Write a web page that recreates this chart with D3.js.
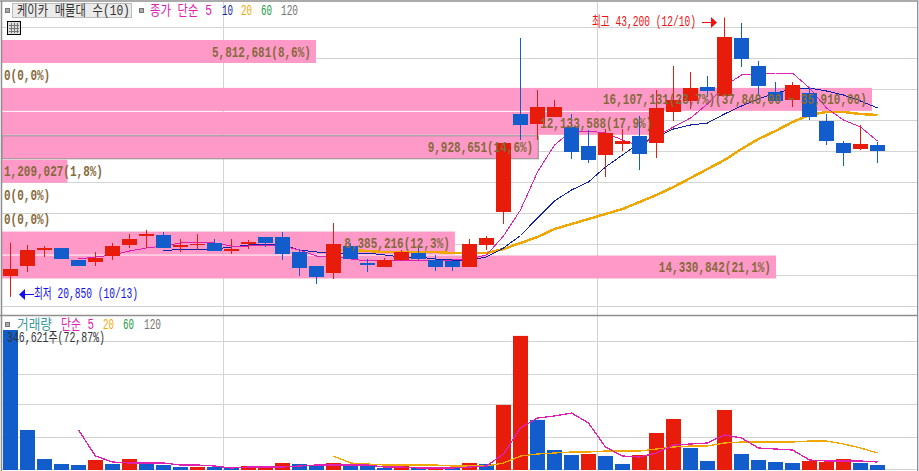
<!DOCTYPE html>
<html>
<head>
<meta charset="utf-8">
<style>
html, body { margin: 0; padding: 0; background: #fff; overflow: hidden; }
text { font-family: "Liberation Mono", "Noto Sans CJK KR", monospace; }
</style>
<script src="https://cdn.jsdelivr.net/npm/d3@7"></script>
</head>
<body>
<div class="graphic"></div>
<script>
// candles (won)
let opens = [22520, 23320, 24600, 24760, 23800, 23640, 24120, 25000, 25720, 25800, 24840, 25000, 25160, 24520, 25080, 25640, 25640, 24440, 23320, 22760, 24920, 23560, 23240, 23800, 24360, 23800, 23720, 23240, 25000, 27640, 35480, 34680, 35240, 34440, 32920, 32200, 33080, 33720, 33160, 35640, 36520, 37640, 36920, 41560, 39320, 37240, 36600, 37160, 34920, 33160, 32680, 33000];
let highs = [25180, 25000, 24920, 24760, 23800, 24440, 25160, 25880, 26200, 26040, 25480, 25880, 25480, 25480, 25400, 25640, 26040, 24680, 23320, 26760, 25160, 23880, 23960, 24600, 24840, 24200, 23720, 25480, 25720, 33160, 41560, 37400, 36600, 35480, 34200, 34280, 34280, 35320, 37400, 39320, 38840, 38520, 43200, 42760, 39720, 38040, 38040, 37560, 35480, 33320, 34600, 33240];
let lows = [20850, 22840, 24040, 23880, 23320, 23320, 23800, 24760, 24760, 24760, 24440, 24600, 24520, 24280, 24680, 24840, 23800, 22520, 21880, 22280, 23880, 22840, 23240, 23720, 23800, 22920, 22920, 23240, 24600, 26680, 33400, 33400, 35240, 31880, 31560, 30440, 32520, 31000, 31960, 34920, 35880, 36840, 36920, 39240, 36920, 36520, 36040, 35000, 33000, 31320, 32600, 31560];
let closes = [23080, 24600, 24760, 23880, 23320, 23960, 24920, 25480, 25880, 24760, 25000, 25080, 24520, 24680, 25240, 25160, 24280, 23160, 22440, 25080, 23880, 23400, 23800, 24440, 23880, 23240, 23240, 25080, 25560, 33160, 34600, 36040, 36040, 32440, 31800, 33960, 33320, 32280, 35960, 36600, 37560, 37320, 41640, 39880, 37720, 36520, 37800, 35240, 33320, 32360, 33080, 32520];

// moving averages, first value sits on candle index given by the start constant
let ma5Start = 4;
let ma5 = [23880, 24040, 24200, 24520, 24760, 24920, 25160, 25240, 25160, 24920, 24920, 25000, 24920, 24600, 24120, 24120, 23880, 23720, 23800, 23800, 23800, 23800, 23800, 23880, 24200, 25720, 27800, 30840, 33000, 34120, 34120, 33960, 33400, 32920, 33720, 34440, 35160, 36280, 37720, 38600, 38680, 38760, 38760, 37560, 35960, 35000, 34440, 33320];
let ma10Start = 9;
let ma10 = [24520, 24680, 24680, 24680, 24840, 25000, 25080, 25000, 24600, 24440, 24360, 24360, 24360, 24200, 24040, 24040, 23880, 23800, 23800, 24040, 24760, 25760, 27160, 28520, 29400, 30040, 31240, 32200, 33160, 33640, 34280, 34600, 34760, 35480, 36120, 36680, 37160, 37480, 37560, 37320, 37000, 36520, 35960];
let ma20Start = 19;
let ma20 = [24600, 24600, 24520, 24440, 24440, 24440, 24440, 24360, 24360, 24360, 24680, 25160, 25640, 26280, 26680, 27080, 27480, 27880, 28440, 29000, 29640, 30360, 31080, 31800, 32680, 33480, 34120, 34840, 35400, 35640, 35640, 35480, 35400];

// volume, shares
let volumes = [346621, 99000, 27200, 14900, 12400, 24800, 14900, 27200, 14900, 12400, 7400, 7400, 7400, 5000, 9900, 9900, 17300, 14900, 9900, 17300, 14900, 12400, 5000, 9900, 5000, 5000, 5000, 17300, 14900, 161000, 332000, 124000, 49500, 37100, 39600, 34700, 14900, 37100, 91600, 126300, 54500, 22300, 148600, 39600, 24800, 19800, 17300, 22300, 19800, 27200, 17300, 12400];
// 1 = red volume bar
let volumeUp = [0, 0, 0, 0, 0, 1, 0, 1, 0, 0, 0, 1, 0, 0, 1, 1, 1, 0, 0, 1, 0, 0, 0, 1, 0, 1, 0, 1, 0, 1, 1, 0, 0, 0, 1, 0, 0, 1, 1, 1, 0, 0, 1, 0, 0, 0, 0, 1, 1, 1, 0, 0];
let volMa5 = [99000, 34700, 19800, 17300, 17300, 17300, 12400, 12400, 9900, 5000, 7400, 7400, 7400, 9900, 12400, 12400, 12400, 12400, 7400, 7400, 5000, 5000, 5000, 7400, 9900, 39600, 104000, 128800, 133700, 141100, 116400, 56900, 34700, 32200, 42100, 61900, 64400, 66900, 86700, 79200, 54500, 52000, 49500, 24800, 22300, 22300, 22300, 19800];
let volMa20 = [34700, 17300, 14900, 12400, 12400, 12400, 12400, 9900, 9900, 9900, 17300, 34700, 39600, 42100, 44600, 44600, 47000, 47000, 47000, 52000, 56900, 59400, 59400, 66900, 69300, 69300, 69300, 69300, 71800, 71800, 64400, 54500, 42100];

// price profile rows, top to bottom
let profileVolumes = [5812681, 0, 16107131, 12133588, 9928651, 1209027, 0, 0, 8385216, 14330842];
let profileLabels = ["5,812,681(8,6%)", "0(0,0%)", "16,107,131(23,7%)(37,840,00 ~ 35,910,00)", "12,133,588(17,9%)", "9,928,651(14,6%)", "1,209,027(1,8%)", "0(0,0%)", "0(0,0%)", "8,385,216(12,3%)", "14,330,842(21,1%)"];
let profileSelected = 4;

let priceTicks = [42400, 39920, 37440, 34960, 32480, 30000, 27520, 25040, 22560, 20080];
let volumeTicks = [81000, 161000, 237000, 317000];

let RED = "#e81c0a";
let BLUE = "#125dcb";
let PINK = "#e020b0";
let NAVY = "#1222a6";
let ORANGE = "#f0a800";
let BROWN = "#866a3c";
let GRID = "#d4d4d4";
let FRAME = "#8f8f8f";

let svg = d3.select(".graphic")
            .append("svg")
            .attr("width", 919)
            .attr("height", 471)
            .style("display", "block");

let x = d3.scaleLinear().domain([0, 51]).range([10.5, 877.5]);
let y = d3.scaleLinear().domain([44600, 7000]).range([0, 470]);
let yVol = d3.scaleLinear().domain([0, 346621]).range([470, 330]);
let profileX = d3.scaleLinear().domain([0, 16107131]).range([2, 872]);
let profileY = d3.scaleBand().domain(d3.range(10)).range([40, 278.5]).paddingInner(0.04);

function crisp(v) {
    return Math.floor(v) + 0.5;
}

// text is squeezed to the width the picture has, the original is a bitmap font
function label(text, px, py, color, width, opts) {
    opts = opts || {};
    let t = svg.append("text")
        .attr("fill", color)
        .attr("font-size", opts.size || 14)
        .attr("font-weight", opts.weight || "normal")
        .text(text);
    let sx = width / t.node().getComputedTextLength();
    t.attr("transform", "translate(" + px + "," + py + ") scale(" + sx + ",1)");
    return t;
}

function hline(py, x1, x2, color) {
    svg.append("line")
        .attr("x1", x1).attr("x2", x2)
        .attr("y1", py).attr("y2", py)
        .attr("stroke", color);
}

// grid
priceTicks.forEach(d => hline(crisp(y(d)), 2, 917, GRID));
volumeTicks.forEach(d => hline(crisp(yVol(d)), 2, 917, GRID));
hline(469.5, 2, 917, GRID);
[223.5, 597.5].forEach(d => {
    svg.append("line")
        .attr("x1", d).attr("x2", d)
        .attr("y1", 2).attr("y2", 471)
        .attr("stroke", GRID);
});

// price profile bars
svg.append("g").selectAll("rect")
    .data(profileVolumes)
    .join("rect")
    .attr("x", profileX(0))
    .attr("y", (d, i) => profileY(i))
    .attr("width", d => profileX(d) - profileX(0))
    .attr("height", profileY.bandwidth())
    .attr("fill", "#ff99c8")
    .attr("stroke", (d, i) => i === profileSelected ? FRAME : "none");

// moving averages go under the candles
let priceLine = d3.line().x(d => x(d[0])).y(d => y(d[1]));
let volLine = d3.line().x(d => x(d[0])).y(d => yVol(d[1]));

function drawLine(gen, values, start, color, width) {
    svg.append("path")
        .attr("d", gen(values.map((v, i) => [i + start, v])))
        .attr("fill", "none")
        .attr("stroke", color)
        .attr("stroke-width", width)
        .attr("shape-rendering", "crispEdges");
}

drawLine(priceLine, ma20, ma20Start, ORANGE, 2.5);
drawLine(priceLine, ma10, ma10Start, NAVY, 1);
drawLine(priceLine, ma5, ma5Start, PINK, 1);

// candles
let BODY = 15;
let candles = svg.append("g").selectAll("g")
    .data(opens.map((d, i) => i))
    .join("g");
candles.append("line")
    .attr("x1", i => x(i)).attr("x2", i => x(i))
    .attr("y1", i => y(highs[i])).attr("y2", i => y(lows[i]))
    .attr("stroke", i => closes[i] >= opens[i] ? RED : BLUE)
    .attr("stroke-width", 1);
candles.append("rect")
    .attr("x", i => x(i) - BODY / 2)
    .attr("y", i => y(Math.max(opens[i], closes[i])))
    .attr("width", BODY)
    .attr("height", i => Math.abs(y(opens[i]) - y(closes[i])))
    .attr("fill", i => closes[i] >= opens[i] ? RED : BLUE);

// volume bars
svg.append("g").selectAll("rect")
    .data(volumes)
    .join("rect")
    .attr("x", (d, i) => x(i) - BODY / 2)
    .attr("y", d => yVol(d))
    .attr("width", BODY)
    .attr("height", d => yVol(0) - yVol(d))
    .attr("fill", (d, i) => volumeUp[i] ? RED : BLUE);
drawLine(volLine, volMa20, ma20Start, ORANGE, 1.3);
drawLine(volLine, volMa5, ma5Start, PINK, 1.3);

// profile labels over everything
profileLabels.forEach((d, i) => {
    let w = d.length * 6.6;
    let right = profileX(profileVolumes[i]) - 5;
    let left = Math.max(right - w, 4);
    label(d, left, profileY(i) + 16.5, BROWN, w, { weight: "bold", size: 15 });
});

// high and low markers
label("최고 43,200 (12/10)", 592, 26, "#f01010", 104);
svg.append("line").attr("x1", 702).attr("x2", 712).attr("y1", 22.5).attr("y2", 22.5).attr("stroke", "#f01010");
svg.append("path").attr("d", "M711,17L717,22.5L711,28Z").attr("fill", "#f01010");
label("최저 20,850 (10/13)", 34, 298, "#1010f0", 104);
svg.append("line").attr("x1", 24).attr("x2", 34).attr("y1", 294.5).attr("y2", 294.5).attr("stroke", "#1010f0");
svg.append("path").attr("d", "M25,289L19,294.5L25,300Z").attr("fill", "#1010f0");

// frame
svg.append("line").attr("x1", 0).attr("x2", 918).attr("y1", 1).attr("y2", 1).attr("stroke", FRAME).attr("stroke-width", 1.5);
svg.append("line").attr("x1", 1.5).attr("x2", 1.5).attr("y1", 1).attr("y2", 471).attr("stroke", FRAME).attr("stroke-width", 1.5);
svg.append("line").attr("x1", 0).attr("x2", 917).attr("y1", 315.5).attr("y2", 315.5).attr("stroke", FRAME).attr("stroke-width", 1.5);
svg.append("rect").attr("x", 918).attr("y", 0).attr("width", 1).attr("height", 471).attr("fill", "#cfdcec");
svg.append("line").attr("x1", 917.5).attr("x2", 917.5).attr("y1", 1).attr("y2", 471).attr("stroke", FRAME);

// top legend
function marker(px, py) {
    svg.append("rect")
        .attr("x", px + 0.5).attr("y", py + 0.5)
        .attr("width", 4).attr("height", 4)
        .attr("fill", "#aaa")
        .attr("stroke", "#777");
}
marker(5, 8);
marker(139, 8);
svg.append("rect")
    .attr("x", 12.5).attr("y", 3.5)
    .attr("width", 119).attr("height", 14)
    .attr("fill", "#ebebeb")
    .attr("stroke", "#bbb");
label("케이카 매물대 수(10)", 17, 15, "#333", 113);
label("종가 단순 5", 150, 15, PINK, 62);
label("10", 222, 15, NAVY, 11, { size: 15 });
label("20", 241, 15, ORANGE, 11, { size: 15 });
label("60", 261, 15, "#1a9a40", 11, { size: 15 });
label("120", 281, 15, "#777", 17, { size: 15 });

// table icon
svg.append("rect").attr("x", 7.5).attr("y", 21.5).attr("width", 13).attr("height", 13).attr("fill", "#ddd").attr("stroke", "#000");
[[9, 25.5, 19, 25.5], [9, 28.5, 19, 28.5], [9, 31.5, 19, 31.5], [11.5, 23, 11.5, 33], [14.5, 23, 14.5, 33], [17.5, 23, 17.5, 33]].forEach(d => {
    svg.append("line").attr("x1", d[0]).attr("y1", d[1]).attr("x2", d[2]).attr("y2", d[3]).attr("stroke", "#777");
});

// volume legend
marker(5, 322);
label("거래량", 17, 329, "#3a9a9a", 35);
label("단순 5", 61, 329, PINK, 33);
label("20", 103, 329, ORANGE, 11, { size: 15 });
label("60", 123, 329, "#1a9a40", 11, { size: 15 });
label("120", 144, 329, "#777", 17, { size: 15 });
label("346,621주(72,87%)", 7, 342, "#333", 98);
</script>
</body>
</html>
